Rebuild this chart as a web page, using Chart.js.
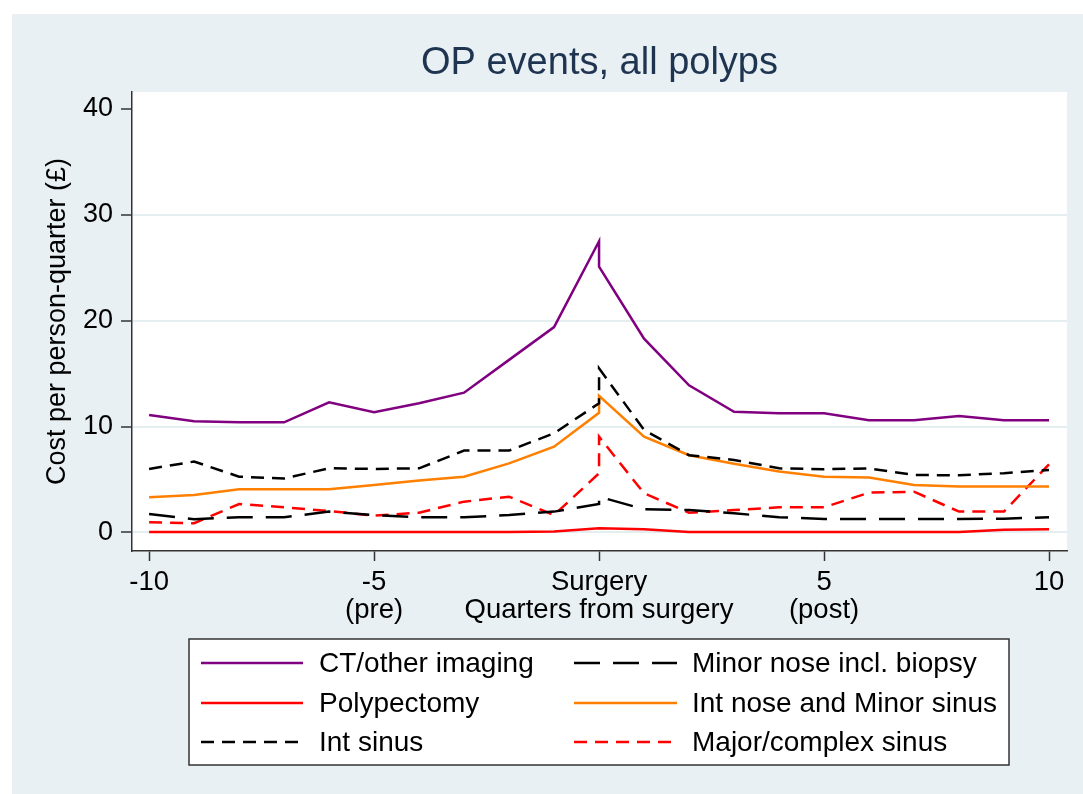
<!DOCTYPE html>
<html lang="en">
  <head>
    <meta charset="UTF-8">
    <title>OP events, all polyps</title>
    <script src="https://cdn.jsdelivr.net/npm/chart.js"></script>
    <style>
      body {
        margin: 0;
        padding: 0;
        background-color: #ffffff;
      }
      .chart-container {
        position: relative;
        width: 1083px;
        height: 794px;
      }
    </style>
  </head>
  <body>
    <div class="chart-container">
      <canvas id="opChart"></canvas>
    </div>

    <script>
      // Quarters from surgery (surgery quarter appears twice: pre and post value)
      const quarters = [-10, -9, -8, -7, -6, -5, -4, -3, -2, -1, 0, 0, 1, 2, 3, 4, 5, 6, 7, 8, 9, 10];

      const ctImaging   = [11.1, 10.5, 10.4, 10.4, 12.3, 11.35, 12.2, 13.2, 16.3, 19.4, 27.5, 25.1, 18.3, 13.9, 11.4, 11.25, 11.25, 10.6, 10.6, 11.0, 10.6, 10.6];
      const polypectomy = [0.05, 0.05, 0.05, 0.05, 0.05, 0.05, 0.05, 0.05, 0.05, 0.1, 0.4, 0.4, 0.3, 0.05, 0.05, 0.05, 0.05, 0.05, 0.05, 0.05, 0.25, 0.3];
      const intSinus    = [6.0, 6.7, 5.27, 5.1, 6.06, 6.0, 6.06, 7.73, 7.73, 9.37, 12.2, 15.5, 9.68, 7.3, 6.85, 6.06, 5.97, 6.05, 5.43, 5.4, 5.6, 5.9];
      const minorNose   = [1.75, 1.25, 1.44, 1.44, 1.97, 1.65, 1.44, 1.44, 1.65, 1.97, 2.69, 3.38, 2.19, 2.12, 1.81, 1.44, 1.28, 1.28, 1.28, 1.28, 1.3, 1.44];
      const intNose     = [3.32, 3.54, 4.08, 4.08, 4.08, 4.49, 4.9, 5.27, 6.53, 8.1, 11.3, 12.9, 9.05, 7.3, 6.5, 5.75, 5.27, 5.2, 4.49, 4.33, 4.33, 4.33];
      const majorSinus  = [0.96, 0.87, 2.69, 2.38, 2.03, 1.59, 1.87, 2.91, 3.38, 1.65, 5.59, 9.05, 3.7, 1.87, 2.12, 2.38, 2.38, 3.76, 3.85, 1.97, 1.97, 6.44];

      const xTicks = [-10, -5, 0, 5, 10];
      const xTickLabels = ['-10', ['-5', '(pre)'], ['Surgery', 'Quarters from surgery'], ['5', '(post)'], '10'];
      const yTicks = [0, 10, 20, 30, 40];

      const chartTitle = 'OP events, all polyps';
      const FONT = 'Arial, "Liberation Sans", sans-serif';
      const BG = '#e8f0f3';

      function toPoints(values) {
        return quarters.map((q, i) => ({ x: q, y: values[i] }));
      }

      function line(label, values, color, dash) {
        return {
          label: label,
          data: toPoints(values),
          borderColor: color,
          backgroundColor: color,
          borderWidth: 2.5,
          borderDash: dash,
          borderCapStyle: 'butt',
          pointRadius: 0,
          tension: 0,
          fill: false
        };
      }

      const datasets = [
        line('CT/other imaging', ctImaging, '#800080', []),
        line('Polypectomy', polypectomy, '#ff0000', []),
        line('Int sinus', intSinus, '#000000', [13, 8]),
        line('Minor nose incl. biopsy', minorNose, '#000000', [26, 13]),
        line('Int nose and Minor sinus', intNose, '#ff7f00', []),
        line('Major/complex sinus', majorSinus, '#ff0000', [13, 8])
      ];

      // background panels (graph region + white plot region)
      const backgroundPlugin = {
        id: 'panels',
        beforeDraw(chart) {
          const { ctx, chartArea } = chart;
          ctx.save();
          ctx.fillStyle = '#ffffff';
          ctx.fillRect(0, 0, chart.width, chart.height);
          ctx.fillStyle = BG;
          ctx.fillRect(12, 14, chart.width - 12, chart.height - 14);
          ctx.fillStyle = '#ffffff';
          ctx.fillRect(chartArea.left, chartArea.top, chartArea.right - chartArea.left, chartArea.bottom - chartArea.top);
          // title centred over the plot region
          ctx.fillStyle = '#1e3450';
          ctx.font = '38px ' + FONT;
          ctx.textAlign = 'center';
          ctx.textBaseline = 'alphabetic';
          ctx.fillText(chartTitle, (chartArea.left + chartArea.right) / 2, 74);
          ctx.restore();
        }
      };

      // boxed legend in two columns, Stata style
      const legendPlugin = {
        id: 'boxLegend',
        afterDraw(chart) {
          const ctx = chart.ctx;
          const box = { x: 189, y: 639, w: 820, h: 126 };
          const rows = [663, 703, 742];
          const cols = [{ x1: 201, x2: 303, tx: 319 }, { x1: 574, x2: 677, tx: 692 }];
          ctx.save();
          ctx.fillStyle = '#ffffff';
          ctx.fillRect(box.x, box.y, box.w, box.h);
          ctx.strokeStyle = '#333333';
          ctx.lineWidth = 1.5;
          ctx.strokeRect(box.x, box.y, box.w, box.h);
          chart.data.datasets.forEach((ds, i) => {
            const col = cols[Math.floor(i / 3)];
            const y = rows[i % 3];
            ctx.beginPath();
            ctx.setLineDash(ds.borderDash);
            ctx.strokeStyle = ds.borderColor;
            ctx.lineWidth = ds.borderWidth;
            ctx.moveTo(col.x1, y);
            ctx.lineTo(col.x2, y);
            ctx.stroke();
            ctx.setLineDash([]);
            ctx.fillStyle = '#000000';
            ctx.font = '28px ' + FONT;
            ctx.textBaseline = 'middle';
            ctx.textAlign = 'left';
            ctx.fillText(ds.label, col.tx, y + 1);
          });
          ctx.restore();
        }
      };

      const ctx = document.getElementById('opChart').getContext('2d');
      new Chart(ctx, {
        type: 'line',
        data: { datasets: datasets },
        plugins: [backgroundPlugin, legendPlugin],
        options: {
          responsive: true,
          maintainAspectRatio: false,
          animation: false,
          layout: {
            padding: { left: 0, top: 92, right: 16, bottom: 143 }
          },
          plugins: {
            legend: { display: false },
            tooltip: { enabled: false },
            title: { display: false }
          },
          scales: {
            x: {
              type: 'linear',
              min: -10.38,
              max: 10.4,
              afterFit(scale) { scale.height = 100; },
              afterBuildTicks(scale) { scale.ticks = xTicks.map(v => ({ value: v })); },
              border: { display: true, color: '#333333', width: 1.5 },
              grid: {
                drawOnChartArea: false,
                drawTicks: true,
                tickLength: 10,
                tickColor: '#333333',
                tickWidth: 1.5
              },
              ticks: {
                autoSkip: false,
                maxRotation: 0,
                padding: 8,
                color: '#000000',
                font: { family: FONT, size: 27.5, lineHeight: 1.0 },
                callback: (value) => {
                  const i = xTicks.indexOf(value);
                  return i >= 0 ? xTickLabels[i] : '';
                }
              }
            },
            y: {
              min: -1.75,
              max: 41.6,
              afterFit(scale) { scale.width = 132; },
              afterBuildTicks(scale) { scale.ticks = yTicks.map(v => ({ value: v })); },
              border: { display: true, color: '#333333', width: 1.5 },
              grid: {
                color: (c) => (c.tick && c.tick.value === 40 ? 'rgba(0,0,0,0)' : '#e4edf0'),
                lineWidth: 2,
                tickLength: 11,
                tickColor: '#333333',
                tickWidth: 1.5
              },
              ticks: {
                padding: 8,
                color: '#000000',
                font: { family: FONT, size: 27 }
              },
              title: {
                display: true,
                text: 'Cost per person-quarter (£)',
                color: '#000000',
                font: { family: FONT, size: 27, lineHeight: 1.2 },
                padding: { top: 41, bottom: 0 }
              }
            }
          }
        }
      });
    </script>
  </body>
</html>
